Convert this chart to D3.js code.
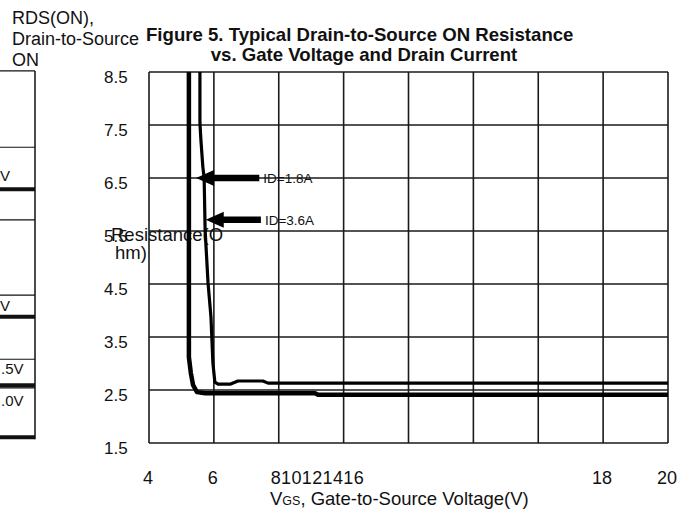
<!DOCTYPE html>
<html>
<head>
<meta charset="utf-8">
<script src="https://cdn.jsdelivr.net/npm/d3@7"></script>
<style>
  body { margin: 0; background: #fff; }
  text { font-family: "Liberation Sans", Arial, sans-serif; fill: #111; }
</style>
</head>
<body>
<script>
const width = 687, height = 511;

// axis ticks
const xTicks = [4, 6, 8, 10, 12, 14, 16, 18, 20];
const xSpreadLabels = [4, 6, 18, 20];
const xCrammedLabels = ["8", "10", "12", "14", "16"]; // printed run together in the scan
const yTicks = [1.5, 2.5, 3.5, 4.5, 5.5, 6.5, 7.5, 8.5];

// RDS(on) vs VGS
const vgsA = [5.23, 5.23, 5.29, 5.36, 5.48, 5.73, 9.12, 9.21, 20];
const rdsA = [8.6, 3.12, 2.82, 2.59, 2.46, 2.44, 2.44, 2.41, 2.41];
const vgsB = [5.57, 5.57, 5.60, 5.66, 5.70, 5.73, 5.82, 5.91, 5.97, 6.03, 6.13, 6.50, 6.74, 7.51, 7.67, 20];
const rdsB = [8.6, 7.54, 7.22, 6.71, 6.50, 5.52, 4.52, 3.88, 3.01, 2.65, 2.61, 2.61, 2.67, 2.67, 2.63, 2.63];

// callouts
const calloutLabels = ["ID=1.8A", "ID=3.6A"];
const calloutY = [6.5, 5.71];
const calloutTip = [5.45, 5.75];
const calloutTail = [7.4, 7.45];

// bits of the neighbouring Figure 4 that got cropped in on the left
const nbRules = [8.52, 7.08, 6.29, 5.71, 4.29, 3.88, 3.08, 2.59, 2.54, 1.61];
const nbRuleBold = [false, false, true, false, false, true, false, true, false, true];
const nbLabels = ["V", "V", ".5V", ".0V"];
const nbLabelY = [6.45, 3.99, 2.8, 2.2];

const x = d3.scaleLinear().domain([4, 20]).range([149, 668]);
const y = d3.scaleLinear().domain([1.5, 8.5]).range([443, 72]);

const svg = d3.select(document.body).append("svg")
    .attr("width", width)
    .attr("height", height);

svg.append("rect").attr("width", width).attr("height", height).attr("fill", "#fff");

// neighbour panel
const nb = svg.append("g").attr("stroke", "#111");
nb.selectAll("line.rule")
  .data(nbRules)
  .join("line")
    .attr("x1", 0).attr("x2", 35)
    .attr("y1", d => y(d)).attr("y2", d => y(d))
    .attr("stroke-width", (d, i) => nbRuleBold[i] ? 4 : 1.2);
nb.append("line")
    .attr("x1", 35).attr("x2", 35)
    .attr("y1", y(nbRules[0])).attr("y2", y(nbRules[nbRules.length - 1]) + 2)
    .attr("stroke-width", 1.5);
svg.append("g").selectAll("text")
  .data(nbLabels)
  .join("text")
    .attr("x", d => d.length > 1 ? 1 : 0)
    .attr("y", (d, i) => y(nbLabelY[i]))
    .attr("font-size", 15)
    .text(d => d);

// left caption
svg.append("g").selectAll("text")
  .data(["RDS(ON),", "Drain-to-Source", "ON"])
  .join("text")
    .attr("x", 12)
    .attr("y", (d, i) => 24 + i * 21)
    .attr("font-size", 18)
    .text(d => d);

// title
const title = svg.append("g").attr("font-size", 18.6);
title.append("text").attr("x", 146).attr("y", 41)
    .style("font-weight", "bold").text("Figure 5. Typical Drain-to-Source ON Resistance");
title.append("text").attr("x", 364).attr("y", 61).attr("text-anchor", "middle")
    .style("font-weight", "bold").text("vs. Gate Voltage and Drain Current");

// grid
const grid = svg.append("g").attr("stroke", "#1a1a1a").attr("stroke-width", 1.6);
grid.selectAll("line.v")
  .data(xTicks)
  .join("line")
    .attr("x1", d => x(d)).attr("x2", d => x(d))
    .attr("y1", y(8.5)).attr("y2", y(1.5));
grid.selectAll("line.h")
  .data(yTicks)
  .join("line")
    .attr("x1", x(4)).attr("x2", x(20))
    .attr("y1", d => y(d)).attr("y2", d => y(d));

// tick labels
svg.append("g").selectAll("text")
  .data(yTicks)
  .join("text")
    .attr("x", 104)
    .attr("y", d => y(d) + 11)
    .attr("font-size", 17)
    .text(d => d.toFixed(1));

svg.append("g").selectAll("text")
  .data(xSpreadLabels)
  .join("text")
    .attr("x", d => x(d) - 1)
    .attr("y", 484)
    .attr("text-anchor", "middle")
    .attr("font-size", 18)
    .text(d => d);
svg.append("text")
    .attr("x", x(8) - 8)
    .attr("y", 484)
    .attr("font-size", 18)
    .attr("textLength", 93)
    .text(xCrammedLabels.join(""));

// axis titles
const xt = svg.append("text").attr("x", 270).attr("y", 505).attr("font-size", 18.5);
xt.append("tspan").text("V");
xt.append("tspan").attr("font-size", 12.5).text("GS");
xt.append("tspan").text(", Gate-to-Source Voltage(V)");

svg.append("g").selectAll("text")
  .data(["Resistance(O", "hm)"])
  .join("text")
    .attr("x", (d, i) => i ? 115 : 111)
    .attr("y", (d, i) => 241 + i * 18)
    .attr("font-size", 18.5)
    .text(d => d);

// curves
svg.append("clipPath").attr("id", "plot")
  .append("rect")
    .attr("x", x(4)).attr("y", y(8.5))
    .attr("width", x(20) - x(4)).attr("height", y(1.5) - y(8.5));

const line = d3.line().x(d => x(d[0])).y(d => y(d[1]));
const curves = svg.append("g").attr("clip-path", "url(#plot)")
    .attr("fill", "none").attr("stroke", "#000")
    .attr("stroke-linejoin", "round");
curves.append("path")
    .attr("d", line(d3.zip(vgsA, rdsA)))
    .attr("stroke-width", 4.5);
curves.append("path")
    .attr("d", line(d3.zip(vgsB, rdsB)))
    .attr("stroke-width", 3.2);

// callout arrows
const co = svg.append("g");
calloutLabels.forEach((lab, i) => {
  const yy = y(calloutY[i]);
  const tip = x(calloutTip[i]);
  co.append("line")
      .attr("x1", tip + 14).attr("x2", x(calloutTail[i]))
      .attr("y1", yy).attr("y2", yy)
      .attr("stroke", "#000").attr("stroke-width", 6.5);
  co.append("path")
      .attr("d", `M${tip},${yy} L${tip + 18},${yy - 8} L${tip + 18},${yy + 8} Z`)
      .attr("fill", "#000");
  co.append("text")
      .attr("x", x(calloutTail[i]) + 4)
      .attr("y", yy + 5)
      .attr("font-size", 13.5)
      .text(lab);
});
</script>
</body>
</html>
